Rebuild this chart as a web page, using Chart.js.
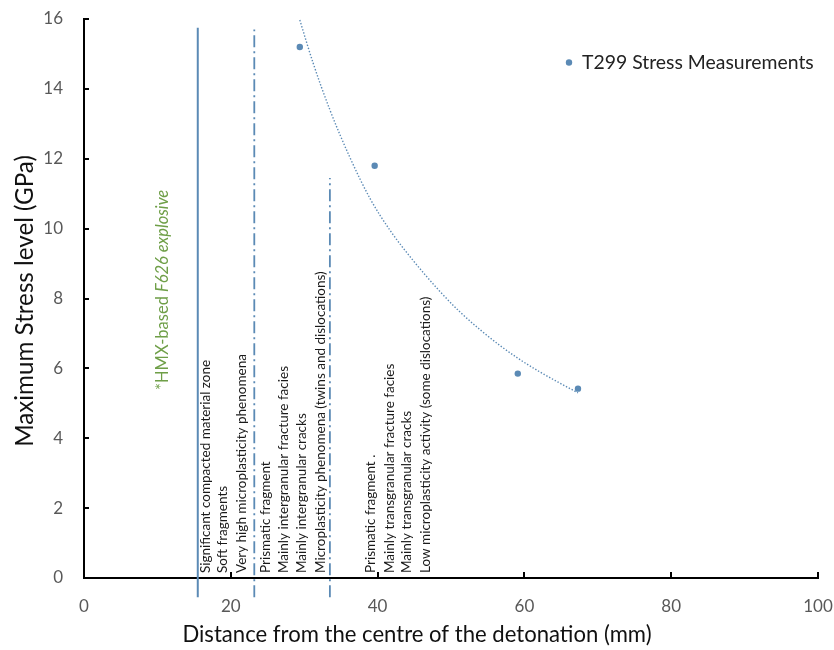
<!DOCTYPE html>
<html>
<head>
<meta charset="utf-8">
<script src="https://cdn.jsdelivr.net/npm/chart.js@4.4.1/dist/chart.umd.min.js"></script>
<style>
  html, body { margin: 0; padding: 0; background: #fff; }
  #wrap { width: 834px; height: 650px; }
</style>
</head>
<body>
<div id="wrap"><canvas id="chart" width="834" height="650"></canvas></div>
<script>
// measured stress points
const distance = [29.4, 39.6, 59.1, 67.3];
const stress = [15.2, 11.8, 5.85, 5.42];

// dotted trend curve
const trendDistance = [29.4, 31.2, 33.5, 36.2, 39.0, 41.7, 44.8, 48.5, 51.2, 54.0, 56.7, 59.4, 62.1, 64.9, 67.3];
const trendStress = [15.97, 14.75, 13.4, 12.05, 10.85, 9.95, 9.1, 8.2, 7.62, 7.1, 6.65, 6.25, 5.9, 5.57, 5.3];

// zone boundary lines
const boundaryX = [15.5, 23.2, 33.5];
const boundaryTop = [15.75, 15.7, 11.45];
const boundaryBottom = -0.55;

const xTicks = [0, 20, 40, 60, 80, 100];
const yTicks = [0, 2, 4, 6, 8, 10, 12, 14, 16];

const xTitle = 'Distance from the centre of the detonation (mm)';
const yTitle = 'Maximum Stress level (GPa)';

const zoneTexts = [
  'Significant compacted material zone',
  'Soft fragments',
  'Very high microplasticity phenomena',
  'Prismatic fragment',
  'Mainly intergranular fracture facies',
  'Mainly intergranular cracks',
  'Microplasticity phenomena (twins and dislocations)',
  'Prismatic fragment .',
  'Mainly transgranular fracture facies',
  'Mainly transgranular cracks',
  'Low microplasticity activity (some dislocations)'
];
const zoneTextX = [16.6, 18.9, 21.5, 24.7, 27.2, 29.7, 32.2, 39.0, 41.7, 44.0, 46.5];

const blue = '#5b8ab5';

function xy(xs, ys) {
  return xs.map((x, i) => ({ x: x, y: ys[i] }));
}

// font size that makes a string span a given width
function fitSize(ctx, text, width, style) {
  ctx.font = (style || '') + ' 20px Lato';
  return 20 * width / ctx.measureText(text).width;
}

let datasets = [
  {
    label: 'T299 Stress Measurements',
    data: xy(distance, stress),
    showLine: false,
    pointRadius: 3.2,
    pointBackgroundColor: blue,
    pointBorderWidth: 0
  },
  {
    label: 'trend',
    data: xy(trendDistance, trendStress),
    showLine: true,
    borderColor: blue,
    borderWidth: 1.4,
    borderDash: [1.4, 1.8],
    pointRadius: 0,
    cubicInterpolationMode: 'monotone',
    fill: false
  }
];

boundaryX.forEach((bx, i) => {
  datasets.push({
    label: 'boundary' + i,
    data: [{ x: bx, y: boundaryBottom }, { x: bx, y: boundaryTop[i] }],
    showLine: true,
    borderColor: blue,
    borderWidth: i === 0 ? 2 : 1.8,
    borderDash: i === 0 ? [] : [12, 4, 2, 4],
    pointRadius: 0,
    clip: false
  });
});

const decor = {
  id: 'decor',
  afterDatasetsDraw(chart) {
    const ctx = chart.ctx;
    const xs = chart.scales.x, ys = chart.scales.y;
    const area = chart.chartArea;
    ctx.save();

    // inside tick marks
    ctx.strokeStyle = '#000';
    ctx.lineWidth = 2;
    yTicks.forEach(t => {
      if (t === 0) return;
      const py = Math.round(ys.getPixelForValue(t));
      ctx.beginPath();
      ctx.moveTo(area.left, py);
      ctx.lineTo(area.left + 5, py);
      ctx.stroke();
    });
    xTicks.forEach(t => {
      if (t === 0) return;
      const px = Math.round(xs.getPixelForValue(t));
      ctx.beginPath();
      ctx.moveTo(px, area.bottom);
      ctx.lineTo(px, area.bottom - 6);
      ctx.stroke();
    });

    // axis titles
    ctx.fillStyle = '#111';
    ctx.textAlign = 'center';
    ctx.textBaseline = 'middle';
    ctx.font = fitSize(ctx, xTitle, 469).toFixed(1) + 'px Lato';
    ctx.fillText(xTitle, 417, 635);
    ctx.save();
    ctx.translate(25, 301);
    ctx.rotate(-Math.PI / 2);
    ctx.font = fitSize(ctx, yTitle, 292).toFixed(1) + 'px Lato';
    ctx.fillText(yTitle, 0, 0);
    ctx.restore();

    // vertical zone descriptions
    const zoneSize = fitSize(ctx, zoneTexts[0], 213);
    ctx.fillStyle = '#1a1a1a';
    ctx.font = zoneSize.toFixed(1) + 'px Lato';
    ctx.textAlign = 'left';
    ctx.textBaseline = 'middle';
    zoneTexts.forEach((txt, i) => {
      ctx.save();
      ctx.translate(xs.getPixelForValue(zoneTextX[i]), area.bottom - 5);
      ctx.rotate(-Math.PI / 2);
      ctx.fillText(txt, 0, 0);
      ctx.restore();
    });

    // explosive note
    const partA = '*HMX-based ', partB = 'F626 explosive';
    ctx.font = '20px Lato';
    let wA = ctx.measureText(partA).width;
    ctx.font = 'italic 20px Lato';
    let wB = ctx.measureText(partB).width;
    const noteSize = 20 * 200 / (wA + wB);
    wA *= noteSize / 20;
    wB *= noteSize / 20;
    ctx.save();
    ctx.translate(163, 290);
    ctx.rotate(-Math.PI / 2);
    ctx.fillStyle = '#6f9f48';
    ctx.textAlign = 'left';
    const start = -(wA + wB) / 2;
    ctx.font = noteSize.toFixed(1) + 'px Lato';
    ctx.fillText(partA, start, 0);
    ctx.font = 'italic ' + noteSize.toFixed(1) + 'px Lato';
    ctx.fillText(partB, start + wA, 0);
    ctx.restore();

    // legend
    const ds = chart.data.datasets[0];
    ctx.fillStyle = blue;
    ctx.beginPath();
    ctx.arc(569, 62.5, 3.2, 0, Math.PI * 2);
    ctx.fill();
    ctx.fillStyle = '#222';
    ctx.font = fitSize(ctx, ds.label, 232).toFixed(1) + 'px Lato';
    ctx.textAlign = 'left';
    ctx.textBaseline = 'middle';
    ctx.fillText(ds.label, 582, 63);

    ctx.restore();
  }
};

function noPad(s) {
  s.paddingTop = 0; s.paddingBottom = 0; s.paddingLeft = 0; s.paddingRight = 0;
}

new Chart(document.getElementById('chart'), {
  type: 'scatter',
  data: { datasets: datasets },
  options: {
    responsive: false,
    animation: false,
    layout: { padding: { left: 0, right: 16, top: 19, bottom: 0 } },
    plugins: {
      legend: { display: false },
      tooltip: { enabled: false }
    },
    scales: {
      x: {
        type: 'linear',
        min: 0,
        max: 100,
        afterBuildTicks: s => { s.ticks = xTicks.map(v => ({ value: v })); },
        afterFit: s => { s.height = 72; noPad(s); },
        grid: { display: true, drawOnChartArea: false, drawTicks: false },
        border: { color: '#000', width: 2 },
        ticks: { color: '#595959', font: { family: 'Lato', size: 17 }, padding: 18 },
        title: { display: false }
      },
      y: {
        type: 'linear',
        min: 0,
        max: 16,
        afterBuildTicks: s => { s.ticks = yTicks.map(v => ({ value: v })); },
        afterFit: s => { s.width = 84; noPad(s); },
        grid: { display: true, drawOnChartArea: false, drawTicks: false },
        border: { color: '#000', width: 2 },
        ticks: { color: '#595959', font: { family: 'Lato', size: 17 }, padding: 21 },
        title: { display: false }
      }
    }
  },
  plugins: [decor]
});
</script>
</body>
</html>
